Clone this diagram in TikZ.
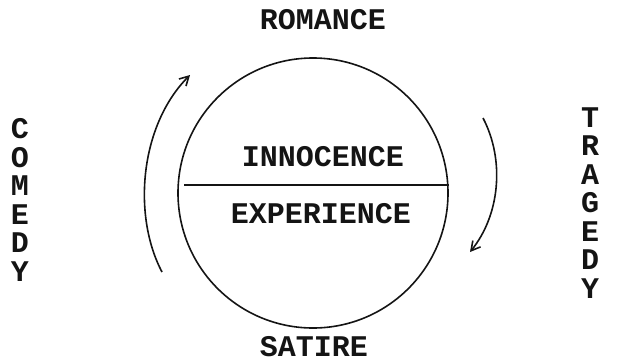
\documentclass[tikz,border=0pt]{standalone}
\usepackage{fontspec}
\newfontfamily\typefont{Liberation Mono}
\definecolor{inkblack}{RGB}{20,20,20}
\usepackage{tikz}
\usetikzlibrary{arrows.meta,positioning,calc}

\tikzset{
    typed/.style={font=\typefont\bfseries\fontsize{30}{28.5}\selectfont, text=inkblack, inner sep=0pt},
    column/.style={typed, align=center},
    swing/.style={draw=inkblack, line width=1.6pt, -{Straight Barb[length=9pt,width=10pt,line width=1.6pt]}}
}

\begin{document}
\begin{tikzpicture}[x=1pt,y=-1pt]
    \useasboundingbox (0,0) rectangle (626,362);

    % the cycle
    \node[circle, draw=inkblack, line width=1.6pt, minimum size=270pt, inner sep=0pt] (cycle) at (313,193) {};
    \draw[inkblack, line width=1.5pt] ($(cycle.west)+(7,-8)$) -- ($(cycle.east)+(0,-8)$);

    % worlds
    \node[typed] (upper) at (323,157) {INNOCENCE};
    \node[typed] (lower) at (321,214) {EXPERIENCE};

    % mythoi
    \node[typed] (romance) at (323,20) {ROMANCE};
    \node[typed] (satire) at (314,347) {SATIRE};
    \node[column] (comedy) at (20,200) {C\\O\\M\\E\\D\\Y};
    \node[column] (tragedy) at (590,203) {T\\R\\A\\G\\E\\D\\Y};

    % movement
    \coordinate (upstart) at (162,272);
    \coordinate (upend) at (190,75);
    \coordinate (downstart) at (483,118);
    \coordinate (downend) at (470,252);
    \draw[swing] (upstart) .. controls (132,215) and (140,125) .. (upend);
    \draw[swing] (downstart) .. controls (505,160) and (500,215) .. (downend);
\end{tikzpicture}
\end{document}
